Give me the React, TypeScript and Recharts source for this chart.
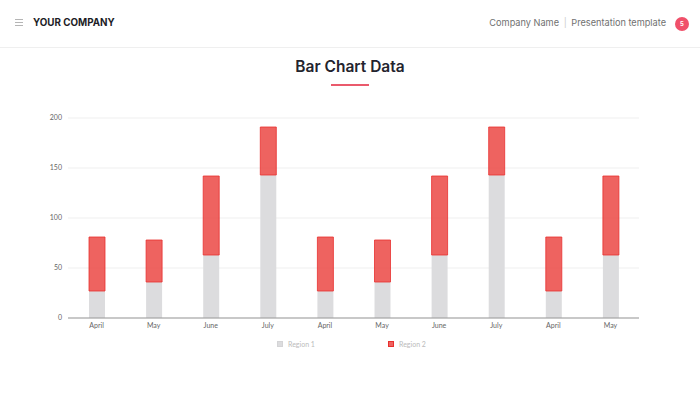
import { Bar, BarChart, CartesianGrid, XAxis, YAxis } from "recharts";

// Values (stacked: Region 1 + Region 2)
const MONTHS = ["April", "May", "June", "July", "April", "May", "June", "July", "April", "May"];
const REGION_1 = [27, 36, 63, 143, 27, 36, 63, 143, 27, 63];
const REGION_2 = [54, 42, 79, 48, 54, 42, 79, 48, 54, 79];
const Y_TICKS = [0, 50, 100, 150, 200];

const chartData = MONTHS.map((month, i) => ({
  key: `${month}-${i}`,
  month,
  region1: REGION_1[i],
  region2: REGION_2[i],
}));

const HEAD_FONT = "Inter, 'Noto Sans', sans-serif";
const BODY_FONT = "Lato, 'Noto Sans', sans-serif";

export default function App() {
  return (
    <div
      style={{
        position: "absolute",
        left: 0,
        top: 0,
        width: 700,
        height: 394,
        background: "#fff",
        overflow: "hidden",
      }}
    >
      {/* Header bar */}
      <div
        style={{
          position: "absolute",
          left: 0,
          top: 0,
          width: 700,
          height: 47,
          borderBottom: "1px solid #efefef",
        }}
      >
        <div style={{ position: "absolute", left: 15, top: 19 }}>
          {[0, 3, 6].map((o) => (
            <div
              key={o}
              style={{ position: "absolute", top: o, width: 8, height: 1, background: "#b5b5b5" }}
            />
          ))}
        </div>
        <div
          style={{
            position: "absolute",
            left: 33,
            top: 17,
            fontFamily: HEAD_FONT,
            fontWeight: 700,
            fontSize: 9.8,
            color: "#1d1d26",
          }}
        >
          YOUR COMPANY
        </div>
        <div
          style={{
            position: "absolute",
            right: 34,
            top: 17,
            fontFamily: HEAD_FONT,
            fontSize: 9.2,
            color: "#707070",
            whiteSpace: "nowrap",
          }}
        >
          Company Name <span style={{ color: "#ccc", margin: "0 2px" }}>|</span> Presentation template
        </div>
        <div
          style={{
            position: "absolute",
            left: 675,
            top: 17,
            width: 14,
            height: 14,
            borderRadius: 7,
            background: "#f0506a",
            color: "#fff",
            fontFamily: HEAD_FONT,
            fontSize: 6,
            fontWeight: 700,
            lineHeight: "14px",
            textAlign: "center",
          }}
        >
          5
        </div>
      </div>

      {/* Title */}
      <div
        style={{
          position: "absolute",
          left: 0,
          top: 57,
          width: 700,
          textAlign: "center",
          fontFamily: HEAD_FONT,
          fontWeight: 600,
          fontSize: 15.5,
          color: "#23232d",
        }}
      >
        Bar Chart Data
      </div>
      <div
        style={{
          position: "absolute",
          left: 331,
          top: 84,
          width: 38,
          height: 2,
          background: "#ea5a6c",
        }}
      />

      {/* Chart */}
      <div style={{ position: "absolute", left: 0, top: 100 }}>
        <BarChart
          width={700}
          height={260}
          data={chartData}
          margin={{ top: 18, right: 61, left: 0, bottom: 12 }}
        >
          <CartesianGrid vertical={false} stroke="#efefef" />
          <XAxis
            dataKey="key"
            tickFormatter={(_v, i) => MONTHS[i]}
            height={30}
            axisLine={{ stroke: "#999" }}
            tickLine={false}
            tickSize={3}
            tick={{ fontSize: 7, fill: "#666", fontFamily: BODY_FONT }}
            interval={0}
          />
          <YAxis
            width={68}
            domain={[0, 200]}
            ticks={Y_TICKS}
            axisLine={false}
            tickLine={false}
            tickSize={4}
            tickMargin={2}
            tick={{ fontSize: 7, fill: "#666", fontFamily: BODY_FONT }}
          />
          <Bar
            dataKey="region1"
            stackId="a"
            barSize={16}
            fill="#dcdcde"
            isAnimationActive={false}
          />
          <Bar
            dataKey="region2"
            stackId="a"
            barSize={16}
            fill="rgba(234, 60, 56, 0.8)"
            stroke="#e8302e"
            strokeWidth={0.8}
            isAnimationActive={false}
          />
        </BarChart>
      </div>

      {/* Legend */}
      {[
        { label: "Region 1", color: "#dcdcde", border: "#d4d4d6", x: 277 },
        { label: "Region 2", color: "rgba(234, 60, 56, 0.8)", border: "#e8302e", x: 388 },
      ].map((item) => (
        <div
          key={item.label}
          style={{
            position: "absolute",
            left: item.x,
            top: 340,
            display: "flex",
            alignItems: "center",
            fontFamily: BODY_FONT,
            fontSize: 7,
            color: "#bbb",
          }}
        >
          <span
            style={{
              display: "inline-block",
              width: 6,
              height: 6,
              background: item.color,
              border: `1px solid ${item.border}`,
              boxSizing: "border-box",
              marginRight: 5,
            }}
          />
          {item.label}
        </div>
      ))}
    </div>
  );
}
